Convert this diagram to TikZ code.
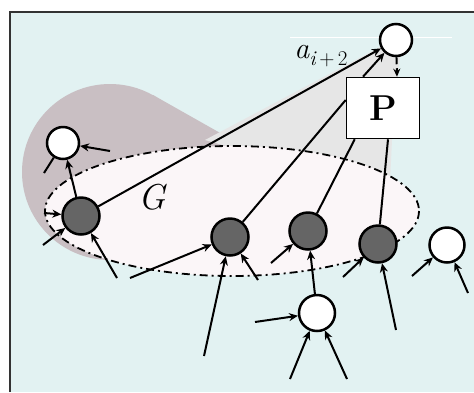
\RequirePackage{fix-cm}
\documentclass[tikz,border=0pt]{standalone}
\usetikzlibrary{arrows.meta}
\definecolor{bgc}{HTML}{E2F2F2}
\definecolor{pinkc}{HTML}{C9BFC3}
\definecolor{conec}{HTML}{E6E6E6}
\definecolor{ellc}{HTML}{FBF6F8}
\definecolor{darkc}{HTML}{656565}
\tikzset{
  wnode/.style={circle, draw=black, fill=white, line width=2.5pt, minimum size=32pt, inner sep=0pt},
  dnode/.style={circle, draw=black, fill=darkc, line width=2.5pt, minimum size=37pt, inner sep=0pt},
  pbox/.style={rectangle, draw=black, fill=white, line width=1.6pt, minimum width=73pt, minimum height=61pt, inner sep=0pt, font=\fontsize{36}{36}\selectfont\bfseries},
  edge/.style={line width=2pt, black},
  arr/.style={edge, -{Stealth[length=9pt,width=8pt]}},
  dashedge/.style={edge, dash pattern=on 7pt off 4pt},
  ellbord/.style={line width=1.8pt, dash pattern=on 8pt off 4pt on 2pt off 4pt}
}
\begin{document}
\begin{tikzpicture}[x=1pt,y=-1pt]
\useasboundingbox (0,0) rectangle (474,392);
\fill[white] (0,0) rectangle (474,392);
\fill[bgc] (10,12) rectangle (474,392);
\draw[line width=2pt, black!80] (10,392) -- (10,12) -- (474,12);
\draw[white, line width=1pt] (290,37) -- (452,37);
% pink-gray blob (teardrop)
\fill[pinkc] (110,172) circle[radius=88];
\fill[pinkc] (153,95) -- (245,147) -- (178,228) -- cycle;
% light gray cone
\fill[conec] (382,46) -- (205,140) -- (240,150) -- (390,182) -- (392,140) -- (400,56) -- cycle;
% ellipse G
\fill[ellc] (232,211) ellipse[x radius=187, y radius=65];
\draw[ellbord] (232,211) ellipse[x radius=187, y radius=65];
% nodes
\node[wnode] (T) at (396,40) {};
\node[pbox] (P) at (383,108) {P};
\node[wnode] (W) at (63,143) {};
\node[dnode] (L) at (81,216) {};
\node[dnode] (A) at (230,237) {};
\node[dnode] (B) at (308,231) {};
\node[dnode] (C) at (378,244) {};
\node[wnode, minimum size=35pt] (R) at (447,245) {};
\node[wnode, minimum size=36pt] (D) at (317,313) {};
% labels
\node[font=\fontsize{36}{36}\selectfont\itshape] (G) at (152,197) {G};
\node[inner sep=0pt] (lab) at (321,56) {\fontsize{30}{30}\selectfont\itshape a\raisebox{-0.22em}{\fontsize{21}{21}\selectfont i\upshape\,+\,2}};
% free ends
\coordinate (w1) at (44,173);
\coordinate (w2) at (110,151);
\coordinate (l1) at (43,245);
\coordinate (l2) at (117,278);
\coordinate (l3) at (44,213);
\coordinate (a1) at (130,278);
\coordinate (a2) at (204,356);
\coordinate (a3) at (258,280);
\coordinate (b1) at (271,263);
\coordinate (c1) at (343,277);
\coordinate (c2) at (396,330);
\coordinate (r1) at (412,276);
\coordinate (r2) at (468,293);
\coordinate (d1) at (255,322);
\coordinate (d2) at (290,379);
\coordinate (d3) at (347,379);
% connectors
\draw[arr] (L) -- (T);
\draw[edge] (A) -- ([yshift=8pt]P.west);
\draw[edge] (B) -- ([xshift=9pt]P.south west);
\draw[edge] (C) -- ([xshift=5pt]P.south);
\draw[arr] ([xshift=-20pt]P.north) -- (T);
\draw[dashedge, -{Stealth[length=8pt,width=7pt]}] (T) -- ([xshift=14pt]P.north);
\draw[arr] (L) -- (W);
\draw[edge] (W) -- (w1);
\draw[arr] (w2) -- (W);
\draw[arr] (l1) -- (L);
\draw[arr] (l2) -- (L);
\draw[arr] (l3) -- (L);
\draw[arr] (a1) -- (A);
\draw[arr] (a2) -- (A);
\draw[arr] (a3) -- (A);
\draw[arr] (b1) -- (B);
\draw[arr] (D) -- (B);
\draw[arr] (c1) -- (C);
\draw[arr] (c2) -- (C);
\draw[arr] (r1) -- (R);
\draw[arr] (r2) -- (R);
\draw[arr] (d1) -- (D);
\draw[arr] (d2) -- (D);
\draw[arr] (d3) -- (D);
\end{tikzpicture}
\end{document}
